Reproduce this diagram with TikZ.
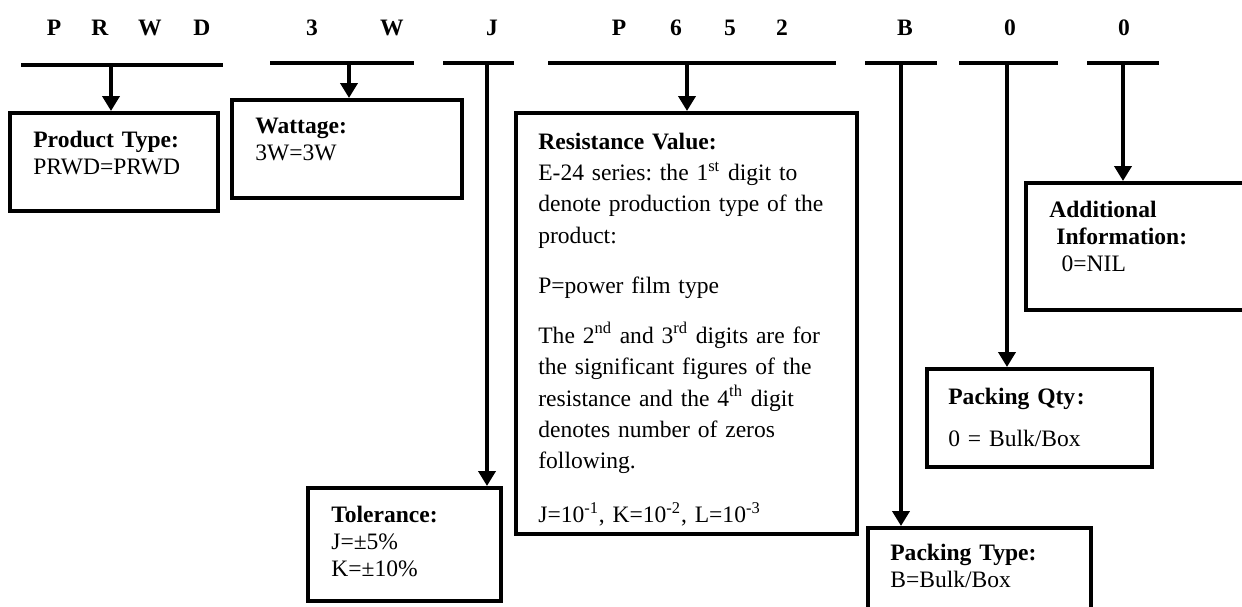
\documentclass[tikz,border=0pt]{standalone}
\usepackage{fontspec}
\setmainfont{Liberation Serif}
\usetikzlibrary{arrows.meta,fit}
\frenchspacing

\begin{document}
\begin{tikzpicture}[x=0.02cm,y=-0.02cm,
    code/.style={anchor=base,inner sep=0pt,font=\fontsize{13.4}{15.6}\selectfont\bfseries},
    bar/.style={line width=0.08cm},
    arrow/.style={line width=0.075cm,-{Triangle[length=0.3cm,width=0.34cm]}},
    box/.style={draw,line width=0.08cm,inner sep=0pt},
    txt/.style={anchor=base west,inner sep=0pt,text width=6.5cm,align=left,font=\fontsize{13.4}{15.6}\selectfont}]
    \useasboundingbox (0,0) rectangle (1242,606);
    \clip (0,0) rectangle (1242,606);
    % part number
    \foreach \x/\c [count=\i] in {54/P,100/R,150/W,202/D,312/3,392/W,492/J,619/P,676/6,730/5,782/2,905/B,1010/0,1124/0}
    \node[code] (d\i) at (\x,35) {\c};
    \draw[bar] (21,65) -- (223,65);
    \draw[bar] (270,63) -- (414,63);
    \draw[bar] (443,63) -- (514,63);
    \draw[bar] (548,63) -- (836,63);
    \draw[bar] (865,63) -- (937,63);
    \draw[bar] (959,63) -- (1058,63);
    \draw[bar] (1087,63) -- (1159,63);
    \coordinate (cType) at (111,65);
    \coordinate (cWatt) at (349,63);
    \coordinate (cTol) at (487,63);
    \coordinate (cRes) at (687,63);
    \coordinate (cPack) at (901,63);
    \coordinate (cQty) at (1007,63);
    \coordinate (cAdd) at (1123,63);
    % boxes
    \node[box,fit={(10,113) (218,211)}] (type) {};
    \node[box,fit={(232,100) (462,198)}] (watt) {};
    \node[box,fit={(308,488) (501,601)}] (tol) {};
    \node[box,fit={(516,113) (857,534)}] (res) {};
    \node[box,fit={(868,528) (1091,650)}] (pack) {};
    \node[box,fit={(927,369) (1152,467)}] (qty) {};
    \node[box,fit={(1026,183) (1270,310)}] (add) {};
    % texts
    \node[txt] (typeT) at (33,147) {\textbf{Product Type:}\\PRWD=PRWD};
    \node[txt] (wattT) at (255,133) {\textbf{Wattage:}\\3W=3W};
    \node[txt] (tolT) at (331,522) {\textbf{Tolerance:}\\J=±5\%\\K=±10\%};
    \node[txt,text width=7cm,font=\fontsize{13.4}{17.9}\selectfont] (resT) at (538,149) {\textbf{Resistance Value:}\\
        E-24 series: the 1\textsuperscript{st} digit to\\denote production type of the\\product:\\[10.5pt]
        P=power film type\\[10.5pt]
        The 2\textsuperscript{nd} and 3\textsuperscript{rd} digits are for\\the significant figures of the\\resistance and the 4\textsuperscript{th} digit\\denotes number of zeros\\following.\\[12.8pt]
        J=10\textsuperscript{-1}, K=10\textsuperscript{-2}, L=10\textsuperscript{-3}};
    \node[txt] (packT) at (890,560) {\textbf{Packing Type:}\\B=Bulk/Box};
    \node[txt] (qtyT) at (948,404) {\textbf{Packing Qty\kern1pt:}\\[8.8pt]0 = Bulk/Box};
    \node[txt] (addT) at (1049,217) {\textbf{Additional}\\\hspace*{4pt}\textbf{Information:}\\\hspace*{7pt}0=NIL};
    % connectors
    \draw[arrow] (cType) -- (cType |- type.north);
    \draw[arrow] (cWatt) -- (cWatt |- watt.north);
    \draw[arrow] (cTol) -- (cTol |- tol.north);
    \draw[arrow] (cRes) -- (cRes |- res.north);
    \draw[arrow] (cPack) -- (cPack |- pack.north);
    \draw[arrow] (cQty) -- (cQty |- qty.north);
    \draw[arrow] (cAdd) -- (cAdd |- add.north);
\end{tikzpicture}
\end{document}
